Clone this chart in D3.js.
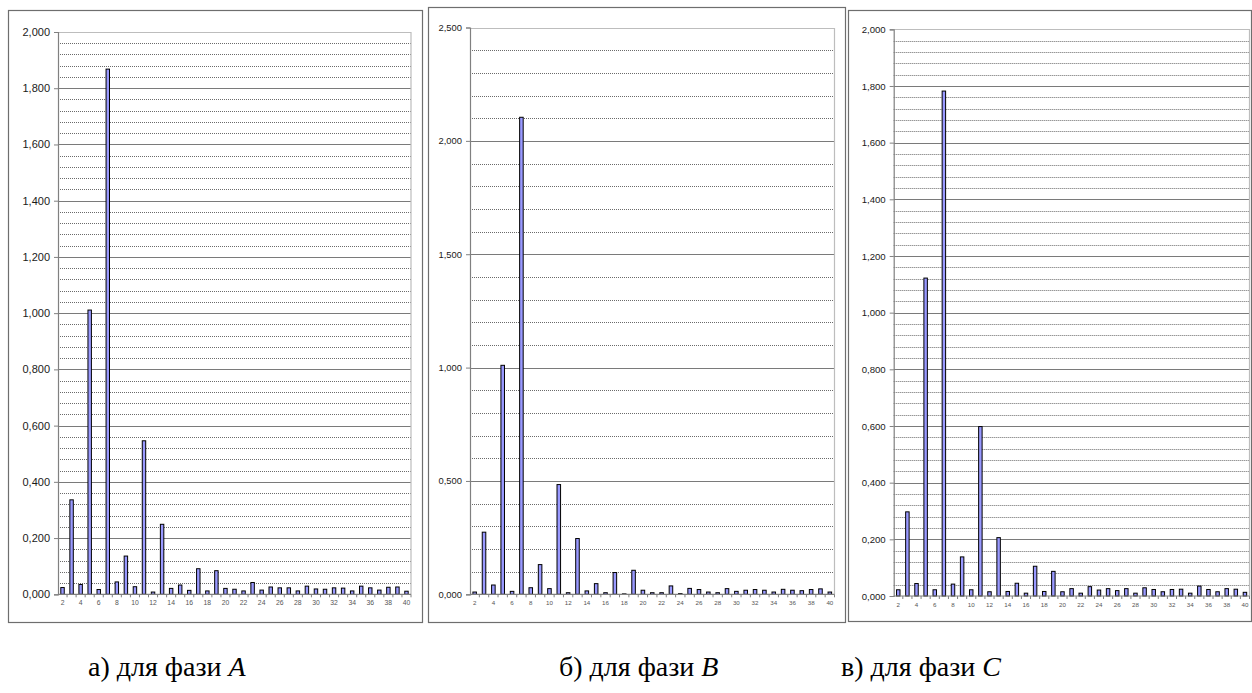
<!DOCTYPE html>
<html><head><meta charset="utf-8">
<script src="https://cdn.jsdelivr.net/npm/d3@7"></script>
<style>body{margin:0;background:#fff;overflow:hidden}svg{display:block}
.cap{font-family:"Liberation Serif","DejaVu Serif","Times New Roman",serif;}</style>
</head><body>
<svg id="c" width="1252" height="693"></svg>
<script>
// ---------- data ----------
const categories = [2,3,4,5,6,7,8,9,10,11,12,13,14,15,16,17,18,19,20,21,22,23,24,25,26,27,28,29,30,31,32,33,34,35,36,37,38,39,40];
const xTickLabels = [2,4,6,8,10,12,14,16,18,20,22,24,26,28,30,32,34,36,38,40];
const valuesA = [0.024,0.336,0.035,1.011,0.017,1.868,0.044,0.136,0.027,0.546,0.008,0.249,0.021,0.033,0.014,0.091,0.012,0.084,0.021,0.018,0.012,0.042,0.015,0.026,0.023,0.023,0.012,0.029,0.019,0.018,0.023,0.022,0.012,0.029,0.023,0.015,0.025,0.026,0.011];
const valuesB = [0.010,0.274,0.041,1.010,0.013,2.104,0.029,0.131,0.025,0.484,0.007,0.246,0.015,0.047,0.007,0.096,0.002,0.106,0.018,0.007,0.007,0.037,0.003,0.026,0.021,0.010,0.007,0.025,0.013,0.018,0.021,0.018,0.010,0.022,0.018,0.016,0.021,0.024,0.010];
const valuesC = [0.022,0.297,0.044,1.122,0.022,1.782,0.042,0.138,0.022,0.598,0.015,0.206,0.016,0.045,0.010,0.105,0.016,0.087,0.015,0.026,0.010,0.033,0.021,0.026,0.019,0.026,0.010,0.029,0.023,0.015,0.023,0.024,0.010,0.035,0.023,0.015,0.026,0.024,0.013];
const yTicksA = [0,0.2,0.4,0.6,0.8,1.0,1.2,1.4,1.6,1.8,2.0];
const yTicksB = [0,0.5,1.0,1.5,2.0,2.5];
const yTicksC = [0,0.2,0.4,0.6,0.8,1.0,1.2,1.4,1.6,1.8,2.0];
const captionPrefixes = ["а) для фази ", "б) для фази ", "в) для фази "];
const phaseLetters = ["A", "B", "C"];

// ---------- layout ----------
const panels = [
  {values: valuesA, ticks: yTicksA, minor: 0.04,
   frame: {x: 8.5, y: 10.5, w: 414, h: 612},
   plot: {l: 58, t: 32, r: 411, b: 594.3}, yFont: 11, xFont: 6.8, capX: 88},
  {values: valuesB, ticks: yTicksB, minor: 0.1,
   frame: {x: 428.5, y: 7.5, w: 417, h: 615},
   plot: {l: 470, t: 27.5, r: 834.5, b: 594.3}, yFont: 9.4, xFont: 6.2, capX: 559},
  {values: valuesC, ticks: yTicksC, minor: 0.04,
   frame: {x: 848.5, y: 10.5, w: 403, h: 611},
   plot: {l: 893.7, t: 29.3, r: 1249.5, b: 596}, yFont: 9.6, xFont: 6.2, capX: 841}
];

const svg = d3.select("#c");
const fmt = v => v.toFixed(3).replace(".", ",");

panels.forEach((p, i) => {
  const g = svg.append("g");
  g.append("rect")
    .attr("x", p.frame.x).attr("y", p.frame.y)
    .attr("width", p.frame.w).attr("height", p.frame.h)
    .attr("fill", "#fff").attr("stroke", "#6e6e6e").attr("stroke-width", 1.2);

  const ymax = p.ticks[p.ticks.length - 1];
  const y = d3.scaleLinear().domain([0, ymax]).range([p.plot.b, p.plot.t]);
  const x = d3.scaleBand().domain(categories).range([p.plot.l, p.plot.r])
    .paddingInner(0.62).paddingOuter(0.31);

  // minor gridlines
  const nMinor = Math.round(ymax / p.minor);
  const minorVals = d3.range(1, nMinor).map(k => k * p.minor)
    .filter(v => !p.ticks.some(t => Math.abs(t - v) < 1e-9));
  g.append("g").selectAll("line").data(minorVals).join("line")
    .attr("x1", p.plot.l).attr("x2", p.plot.r)
    .attr("y1", d => Math.round(y(d)) + 0.5).attr("y2", d => Math.round(y(d)) + 0.5)
    .attr("stroke", "#6a6a6a").attr("stroke-width", 1).attr("stroke-dasharray", "1,1");

  // major gridlines
  g.append("g").selectAll("line").data(p.ticks.filter(t => t > 0 && t < ymax)).join("line")
    .attr("x1", p.plot.l).attr("x2", p.plot.r)
    .attr("y1", d => Math.round(y(d)) + 0.5).attr("y2", d => Math.round(y(d)) + 0.5)
    .attr("stroke", "#7a7a7a").attr("stroke-width", 1);

  // plot border (top/right light)
  g.append("path")
    .attr("d", `M${p.plot.l},${Math.round(p.plot.t)+0.5}H${p.plot.r}V${p.plot.b}`)
    .attr("fill", "none").attr("stroke", "#bdbdbd").attr("stroke-width", 1.2);

  // bars
  g.append("g").selectAll("rect").data(categories.map((c, k) => ({c, v: p.values[k]}))).join("rect")
    .attr("x", d => x(d.c)).attr("width", x.bandwidth())
    .attr("y", d => y(d.v)).attr("height", d => y(0) - y(d.v))
    .attr("fill", "#9999ff").attr("stroke", "#000").attr("stroke-width", 1);

  // y axis
  const yAxis = d3.axisLeft(y).tickValues(p.ticks).tickFormat(fmt).tickSize(4).tickPadding(4);
  const ya = g.append("g").attr("transform", `translate(${p.plot.l},0)`).call(yAxis);
  ya.attr("font-size", null).attr("font-family", null);
  ya.select(".domain").attr("stroke", "#808080").attr("stroke-width", 1.2);
  ya.selectAll(".tick line").attr("stroke", "#808080");
  ya.selectAll(".tick text").attr("fill", "#1a1a1a")
    .style("font-family", "'Liberation Sans', Arial, sans-serif").style("font-size", p.yFont + "px");

  // x axis
  const xa = g.append("g").attr("transform", `translate(0,${p.plot.b})`);
  xa.append("line").attr("x1", p.plot.l).attr("x2", p.plot.r)
    .attr("stroke", "#808080").attr("stroke-width", 1.2);
  const step = x.step();
  xa.selectAll("line.tk").data(categories).join("line").attr("class", "tk")
    .attr("x1", d => x(d) + x.bandwidth() / 2 + step / 2).attr("x2", d => x(d) + x.bandwidth() / 2 + step / 2)
    .attr("y1", 0).attr("y2", 3).attr("stroke", "#808080");
  xa.selectAll("text").data(xTickLabels).join("text")
    .attr("x", d => x(d) + x.bandwidth() / 2).attr("y", 11)
    .attr("text-anchor", "middle").attr("fill", "#555")
    .style("font-family", "'Liberation Sans', Arial, sans-serif").style("font-size", p.xFont + "px")
    .text(d => d);

  // caption
  const cap = svg.append("text").attr("class", "cap").attr("x", p.capX).attr("y", 676)
    .attr("font-size", 28).attr("fill", "#000");
  cap.append("tspan").text(captionPrefixes[i]);
  cap.append("tspan").attr("font-style", "italic").text(phaseLetters[i]);
});
</script>
</body></html>
